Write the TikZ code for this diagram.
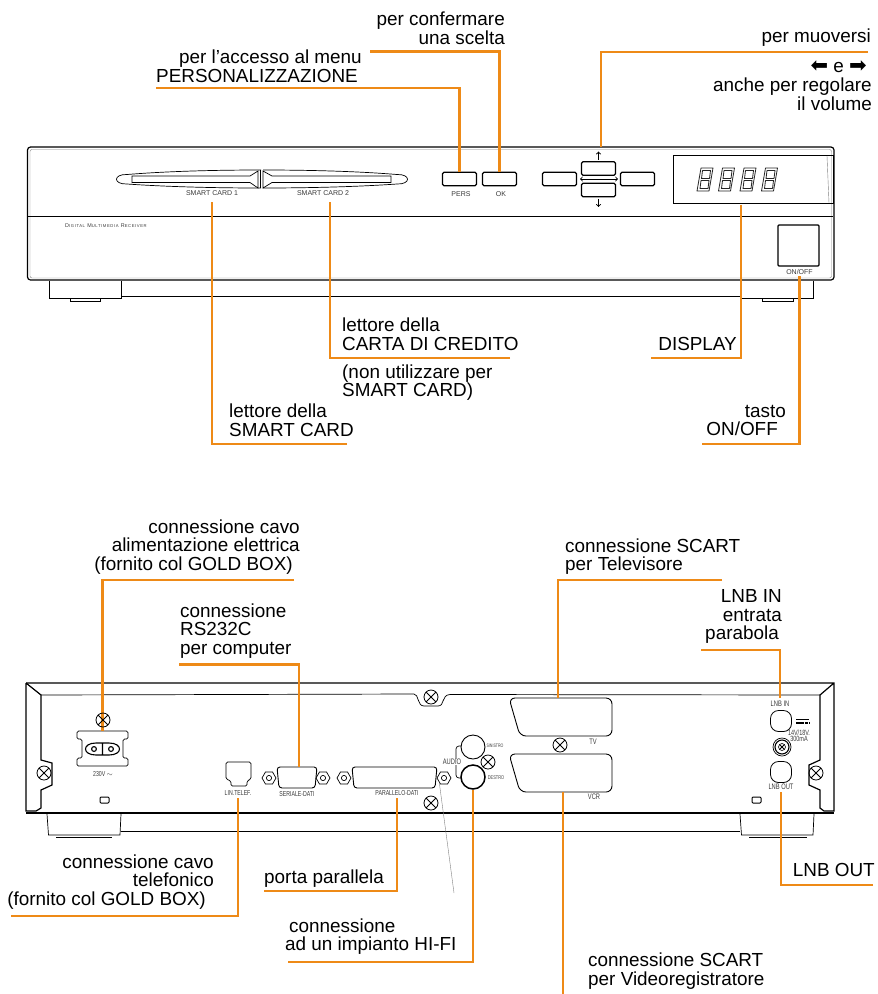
\documentclass[tikz,border=0pt]{standalone}
\usepackage{fontspec}
\setmainfont{Liberation Sans}
\newfontfamily\narrowfont[FakeStretch=0.72]{Liberation Sans}
\newfontfamily\spacedfont[LetterSpace=14]{Liberation Sans}
\newfontfamily\symbolfont{DejaVu Sans}
\usetikzlibrary{shapes.geometric}
\definecolor{leadercolor}{HTML}{EE8A17}
\definecolor{printcolor}{HTML}{3A3A3A}
\begin{document}
\begin{tikzpicture}
[x=1pt,y=-1pt,
call text/.style={inner sep=0pt,font=\fontsize{18.9}{18.7}\selectfont},
call left/.style={call text,anchor=west,align=left},
call right/.style={call text,anchor=east,align=right},
small text/.style={inner sep=0pt,text=printcolor,font=\fontsize{7}{7}\selectfont},
narrow text/.style={inner sep=0pt,text=printcolor,font=\narrowfont\fontsize{7.2}{5}\selectfont,align=center},
leader line/.style={draw=leadercolor,line width=2.2pt},
body line/.style={draw=black,line width=1.2pt},
thin line/.style={draw=black,line width=.7pt},
keybox/.style={draw=black,line width=1.3pt,rounded corners=1.5pt,inner sep=0pt,minimum width=34pt,minimum height=13.5pt},
screw/.style={circle,draw=black,line width=.8pt,inner sep=0pt,minimum size=14pt,
path picture={\draw[line width=.8pt] (path picture bounding box.north west)--(path picture bounding box.south east)
(path picture bounding box.north east)--(path picture bounding box.south west);}},
nut/.style={regular polygon,regular polygon sides=6,draw=black,line width=.7pt,inner sep=0pt,minimum size=14pt},
jack/.style={circle,draw=black,line width=.9pt,inner sep=0pt,minimum size=24pt},
lnbport/.style={draw=black,line width=.8pt,rounded corners=8pt,inner sep=0pt,minimum size=21pt}]
\useasboundingbox (0,0) rectangle (878,994);

\draw[body line,rounded corners=3pt] (27.5,147) rectangle (834,280);
\draw[line width=.4pt,draw=gray,rounded corners=2pt] (30,149.5) rectangle (831.5,278);
\draw[thin line] (28,216) -- (833,216);
\draw[thin line] (49,281) -- (49,298) -- (121,298) -- (121,281);
\draw[thin line] (70,298) -- (70,301) -- (100,301) -- (100,298);
\draw[thin line] (121,296) -- (741,296);
\draw[thin line] (741,298) -- (813,298) -- (813,281);
\draw[thin line] (762,298) -- (762,301) -- (793,301) -- (793,298);

\draw[thin line] (127,174.5) .. controls (170,171) and (220,170) .. (261,170)
(261,188) .. controls (220,188) and (170,187) .. (127,184)
(127,174.5) .. controls (113,174) and (113,184.5) .. (127,184);
\draw[thin line] (397,174.5) .. controls (354,171) and (304,170) .. (263,170)
(263,188) .. controls (304,188) and (354,187) .. (397,184)
(397,174.5) .. controls (411,174) and (411,184.5) .. (397,184);
\draw[thin line] (132,175.5) -- (132,183) (132,176) -- (250,176) -- (258,171) -- (258,188) -- (250,182.5) -- (132,182.5);
\draw[thin line] (391,175.5) -- (391,183) (391,176) -- (272,176) -- (263,171) -- (263,188) -- (272,182.5) -- (391,182.5);
\draw[line width=1.2pt] (260.5,170) -- (260.5,188);
\node[small text] (sc1 label) at (212,193.5) {SMART CARD 1};
\node[small text] (sc2 label) at (323,193.5) {SMART CARD 2};
\node[inner sep=0pt,text=printcolor,font=\spacedfont\fontsize{5.4}{5}\selectfont] (model label) at (106,225.6) {D{\fontsize{4.2}{5}\selectfont IGITAL} M{\fontsize{4.2}{5}\selectfont ULTIMEDIA} R{\fontsize{4.2}{5}\selectfont ECEIVER}};

\node[keybox] (pers key) at (459.5,179) {};
\node[keybox] (ok key) at (499.5,179) {};
\node[keybox] (left key) at (559.5,179) {};
\node[keybox] (right key) at (637.5,179) {};
\node[keybox] (up key) at (598.5,168.5) {};
\node[keybox] (down key) at (598.5,190) {};
\node[small text] (pers label) at (461,194) {PERS};
\node[small text] (ok label) at (501,194) {OK};
\draw[line width=.9pt,-to] (up key.north) ++(0,-1.5) -- ++(0,-8);
\draw[line width=.9pt,-to] (down key.south) ++(0,1.5) -- ++(0,8);
\draw[line width=.9pt,to-to] (580,179) -- (618,179);

\node[draw=black,line width=.7pt,inner sep=0pt,minimum width=160pt,minimum height=48pt] (display) at (753,179) {};
\draw[line width=.4pt,draw=gray] (827,156) -- (829,203);
\foreach \x in {697,718.5,740,761.5}{
\draw[line width=.8pt,line join=round,draw=black!85] (\x+4,168) -- (\x+16,168) -- (\x+12,191) -- (\x,191) -- cycle
(\x+5.5,170.5) -- (\x+13.5,170.5) -- (\x+12.5,178.5) -- (\x+4.5,178.5) -- cycle
(\x+4,180.5) -- (\x+12,180.5) -- (\x+11,188.5) -- (\x+3,188.5) -- cycle;
}
\node[draw=black,line width=1.3pt,rounded corners=1pt,inner sep=0pt,minimum size=41pt] (onoff key) at (798.5,245.5) {};
\node[small text] (onoff label) at (799.5,271.5) {ON/OFF};

\node[call right] (confirm text) at (505,28.5) {per confermare\\una scelta};
\node[call right] (pers text) at (362,66) {per l'accesso al menu\\PERSONALIZZAZIONE\hspace*{4pt}};
\node[call right] (move text) at (871,38) {per muoversi};
\node[call right] (arrow text) at (867,67) {{\symbolfont\fontsize{21}{14}\selectfont ⬅} e {\symbolfont\fontsize{21}{14}\selectfont ➡}};
\node[call right] (volume text) at (872,94.5) {anche per regolare\\il volume};
\node[call left] (credit text) at (342,334.5) {lettore della\\CARTA DI CREDITO};
\node[call left] (note text) at (342,382.5) {(non utilizzare per\\SMART CARD)};
\node[call left] (card text) at (229,420.5) {lettore della\\SMART CARD};
\node[call right] (display text) at (737,344) {DISPLAY};
\node[call right] (onoff text) at (786,420.5) {tasto\\ON/OFF\hspace*{8pt}};

\coordinate (pers free) at (156,88);
\coordinate (ok free) at (370,51.5);
\coordinate (move free) at (868,52);
\coordinate (sc1 free) at (347,444);
\coordinate (sc2 free) at (510,358);
\coordinate (display free) at (651,358);
\coordinate (onoff free) at (702,444);
\draw[leader line] (pers free) -| (pers key.north);
\draw[leader line] (ok free) -| (ok key.north);
\draw[leader line,shorten >=14pt] (move free) -| ([xshift=2.5pt]up key.north);
\draw[leader line,shorten >=6pt] (sc1 free) -| (sc1 label.south);
\draw[leader line,shorten >=6pt] (sc2 free) -| ([xshift=7pt]sc2 label.south);
\draw[leader line,shorten >=2pt] (display free) -| ([xshift=-12pt]display.south);
\draw[leader line,shorten >=2pt] (onoff free) -| (onoff label.south);

\draw[body line] (26,683) -- (834,683) -- (834,811) -- (824,811) -- (820,808) -- (820,790) -- (809,785) -- (809,765) -- (820,760) -- (820,695) -- (834,683);
\draw[body line] (26,683) -- (26,811) -- (36,811) -- (41,808) -- (41,790) -- (52,785) -- (52,763) -- (41,760) -- (41,695) -- (26,683);
\draw[thin line] (41,695) -- (414,694) .. controls (419,694) and (417,706) .. (424,706) -- (438,706) .. controls (445,706) and (441,695) .. (450,694.5) -- (820,695);
\draw[body line] (26,813) -- (834,813);
\draw[thin line] (47,814) -- (48.5,835) -- (120,835) -- (121,814);
\draw[line width=1pt] (56,837.5) -- (112,837.5);
\draw[thin line] (121,831) -- (740,831);
\draw[thin line] (740,814) -- (741.5,835) -- (813,835) -- (814,814);
\draw[line width=1pt] (749,837.5) -- (807,837.5);

\node[inner sep=0pt,minimum width=51pt,minimum height=35pt] (power socket) at (102.5,748.5) {};
\draw[thin line,rounded corners=1.5pt] (77,731) -- (128,731) -- (128,739) -- (123,739) -- (123,758) -- (128,758) -- (128,766) -- (77,766) -- (77,758) -- (82,758) -- (82,739) -- (77,739) -- cycle;
\draw[line width=1.1pt] (96,743) -- (109,743) .. controls (123,743) and (123,755) .. (109,755) -- (96,755) .. controls (82,755) and (82,743) .. (96,743) (102.5,743) -- (102.5,755);
\draw[line width=1.1pt] (94,749) circle (2.4) (111,749) circle (2.4);
\node[narrow text] (power label) at (103,774) {230V\,$\sim$};

\node[inner sep=0pt,minimum width=27pt,minimum height=25pt] (phone socket) at (238.5,774.5) {};
\draw[thin line,rounded corners=1.5pt] (226,762) -- (251,762) -- (251,779) -- (247,781) -- (247,786) -- (231,786) -- (231,781) -- (226,779) -- cycle;
\node[narrow text] (phone label) at (238,793) {LIN.TELEF.};
\foreach \nm/\xa/\xb in {serial port/277/317,parallel port/352/437}{
\node[inner sep=0pt,minimum width=\xb-\xa,minimum height=21pt] (\nm) at ({(\xa+\xb)/2},777.5) {};
\draw[line width=.9pt,rounded corners=3pt] (\xa,767) -- (\xb,767) -- (\xb-2,788) -- (\xa+2,788) -- cycle;
}
\node[narrow text] (serial label) at (297,794) {SERIALE-DATI};
\node[narrow text] (parallel label) at (397,793) {PARALLELO-DATI};
\foreach \nm/\x in {nuta/269,nutb/323,nutc/344,nutd/444}{
\node[nut] (\nm) at (\x,778) {};
\draw[line width=.7pt] (\nm.center) circle (2.6);
}

\foreach \nm/\y in {tv scart/698,vcr scart/754}{
\node[inner sep=0pt,minimum width=103pt,minimum height=38pt] (\nm) at (560.5,\y+19) {};
\draw[line width=.9pt,rounded corners=6pt] (509,\y) -- (612,\y) -- (612,\y+38) -- (520,\y+38) -- cycle;
}
\node[narrow text,font=\narrowfont\fontsize{8}{5}\selectfont] (tv label) at (593,742) {TV};
\node[narrow text,font=\narrowfont\fontsize{8}{5}\selectfont] (vcr label) at (594,797) {VCR};

\node[jack] (audio left) at (473,747) {};
\node[jack,line width=1.5pt] (audio right) at (473,777) {};
\draw[thin line,rounded corners=3pt] (461,746) -- (456,746) -- (456,778) -- (461,778);
\node[narrow text,fill=white,font=\narrowfont\fontsize{8}{5}\selectfont] (audio label) at (452,762) {AUDIO};
\node[narrow text,font=\narrowfont\fontsize{5}{5}\selectfont] (sinistro label) at (495,746) {SINISTRO};
\node[narrow text,font=\narrowfont\fontsize{5.4}{5}\selectfont] (destro label) at (496,778) {DESTRO};

\node[narrow text,font=\narrowfont\fontsize{8}{5}\selectfont] (lnb in label) at (780,704) {LNB IN};
\node[lnbport] (lnb in port) at (781,721) {};
\draw[line width=1.4pt] (796,719.5) -- (809,719.5);
\draw[line width=1.4pt,dash pattern=on 3.5pt off .8pt] (796,723) -- (809,723);
\node[narrow text,font=\narrowfont\fontsize{7.6}{4.6}\selectfont] (volt label) at (799,736) {14V/18V.\\300mA};
\node[circle,draw=black,line width=.7pt,inner sep=0pt,minimum size=18pt] (coax outer) at (782,747) {};
\node[circle,draw=black,line width=1.1pt,inner sep=0pt,minimum size=14pt] (coax inner) at (782,747) {};
\node[circle,draw=black,line width=.6pt,inner sep=0pt,minimum size=7pt,path picture={\draw[line width=.8pt] (path picture bounding box.north west)--(path picture bounding box.south east) (path picture bounding box.north east)--(path picture bounding box.south west);}] (coax pin) at (782,747) {};
\node[lnbport] (lnb out port) at (781,772) {};
\node[narrow text,font=\narrowfont\fontsize{8}{5}\selectfont] (lnb out label) at (781,787) {LNB OUT};
\draw[line width=1pt,rounded corners=1pt] (100,797) -- (109,797) -- (109,803) -- (100,803) -- cycle;
\draw[line width=1pt,rounded corners=1pt] (752,797) -- (761,797) -- (761,803) -- (752,803) -- cycle;

\draw[line width=.4pt,draw=gray] (nutd.south west) -- (454,893);

\node[call right] (power text) at (300,547) {connessione cavo\\alimentazione elettrica\hspace*{3pt}\\(fornito col GOLD BOX)\hspace*{7pt}};
\node[call left] (rs text) at (180,631) {connessione\\RS232C\\per computer};
\node[call left] (tv text) at (565,556.5) {connessione SCART\\per Televisore};
\node[call right] (lnb in text) at (782,616.5) {LNB IN\\entrata\\parabola\hspace*{3pt}};
\node[call right] (phone text) at (214,882) {connessione cavo\\telefonico\hspace*{8pt}\\(fornito col GOLD BOX)\hspace*{8pt}};
\node[call left] (parallel text) at (264,879) {porta parallela};
\node[call left] (hifi text) at (285,936.5) {\hspace*{4pt}connessione\\ad un impianto HI-FI};
\node[call left] (vcr text) at (588,971) {connessione SCART\\per Videoregistratore};
\node[call right] (lnb out text) at (875,870) {LNB OUT};

\coordinate (power free) at (294,580);
\coordinate (rs free) at (179,664.5);
\coordinate (tv free) at (722,580);
\coordinate (lnb in free) at (701,650);
\coordinate (phone free) at (11,916);
\coordinate (parallel free) at (264,891);
\coordinate (hifi free) at (288,962);
\coordinate (vcr free) at (563,994);
\coordinate (lnb out free) at (873,885);
\draw[leader line] (power free) -| (power socket.north);
\draw[leader line] (rs free) -| ([xshift=2pt]serial port.north);
\draw[leader line] (tv free) -| ([xshift=-2.5pt]tv scart.north);
\draw[leader line,shorten >=3pt] (lnb in free) -| (lnb in label.north);
\draw[leader line,shorten >=2pt] (phone free) -| (phone label.south);
\draw[leader line,shorten >=2pt] (parallel free) -| (parallel label.south);
\draw[leader line] (hifi free) -| (audio right.south);
\draw[leader line] (vcr free) -- ([xshift=2.5pt]vcr scart.south);
\draw[leader line,shorten >=2pt] (lnb out free) -| (lnb out label.south);

\foreach \nm/\x/\y in {screwa/103/720,screwb/44/773,screwc/431/697,screwd/431/803,screwe/488/762,screwf/560/745,screwg/816/773}{
\node[screw] (\nm) at (\x,\y) {};
}
\end{tikzpicture}
\end{document}
